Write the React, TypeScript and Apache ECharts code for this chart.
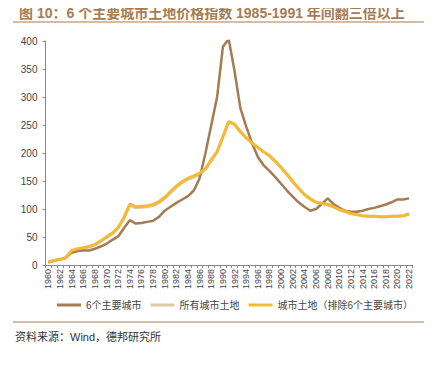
import React, { useEffect, useRef } from "react";
import * as echarts from "echarts";

const years: string[] = [];
for (let y = 1960; y <= 2022; y++) years.push(String(y));

const sixCities = [
  5, 8, 10, 13, 22, 25, 26, 26, 29, 33,
  38, 45, 51, 66, 80, 74, 75, 77, 79, 86,
  97, 104, 111, 117, 123, 133, 155, 200, 250, 300,
  390, 403, 346, 280, 247, 218, 193, 178, 168, 157,
  145, 133, 122, 112, 104, 97, 100, 109, 119, 109,
  102, 97, 95, 95, 97, 100, 102, 105, 108, 112,
  117, 117, 119,
];

const otherCities = [
  5, 8, 10, 13, 26, 29, 31, 33, 37, 43,
  50, 57, 67, 85, 109, 104, 105, 106, 108, 113,
  121, 131, 141, 149, 155, 159, 164, 172, 188, 202,
  229, 256, 251, 238, 227, 218, 210, 202, 195, 185,
  174, 162, 149, 137, 126, 118, 112, 110, 108, 104,
  99, 96, 92, 90, 88, 87, 87, 86, 86, 87,
  87, 88, 91,
];

const allCities = [
  5, 8, 10, 13, 25, 28, 30, 32, 36, 42,
  49, 56, 66, 84, 107, 102, 103, 104, 106, 111,
  119, 129, 139, 147, 153, 157, 162, 171, 187, 202,
  229, 256, 251, 238, 227, 218, 210, 202, 195, 185,
  174, 162, 149, 137, 126, 118, 112, 110, 108, 104,
  99, 96, 92, 90, 88, 87, 87, 86, 86, 87,
  87, 88, 91,
];

const seriesNames = ["6个主要城市", "所有城市土地", "城市土地（排除6个主要城市）"];
const colors = ["#a57c52", "#dccba5", "#f6b933"];

export default function App() {
  const ref = useRef<HTMLDivElement>(null);
  useEffect(() => {
    if (!ref.current) return;
    const chart = echarts.init(ref.current, undefined, { renderer: "svg" });
    chart.setOption({
      animation: false,
      textStyle: { fontFamily: "Liberation Sans, Noto Sans CJK SC, sans-serif" },
      title: {
        text: "图 10：6 个主要城市土地价格指数 1985-1991 年间翻三倍以上",
        left: 14,
        top: 1,
        textStyle: {
          color: "#a57c52",
          fontSize: 14,
          fontWeight: "bold",
          fontFamily: "Liberation Sans, Noto Sans CJK SC, sans-serif",
        },
      },
      graphic: [
        { type: "line", shape: { x1: 13, y1: 22, x2: 425, y2: 22 }, style: { stroke: "#a57c52", lineWidth: 1.2 } },
        { type: "line", shape: { x1: 13, y1: 322, x2: 425, y2: 322 }, style: { stroke: "#a57c52", lineWidth: 1.2 } },
        {
          type: "text",
          left: 15,
          top: 331,
          style: {
            text: "资料来源：Wind，德邦研究所",
            fill: "#333",
            font: "11px 'Liberation Sans', 'Noto Sans CJK SC', sans-serif",
          },
        },
      ],
      legend: {
        bottom: 54,
        left: 52,
        width: 380,
        itemWidth: 24,
        itemHeight: 3,
        itemGap: 9,
        icon: "rect",
        textStyle: { fontSize: 10, color: "#444" },
        data: seriesNames,
      },
      grid: { left: 45.5, right: 20, top: 41, bottom: 104 },
      xAxis: {
        type: "category",
        data: years,
        boundaryGap: true,
        axisLine: { lineStyle: { color: "#888" } },
        axisTick: { show: true, interval: 0, length: 3, lineStyle: { color: "#888" } },
        axisLabel: { rotate: 90, interval: 1, fontSize: 9, color: "#444", margin: 4 },
      },
      yAxis: {
        type: "value",
        min: 0,
        max: 400,
        interval: 50,
        axisLine: { show: true, lineStyle: { color: "#888" } },
        axisTick: { show: true, length: 3, lineStyle: { color: "#888" } },
        axisLabel: { fontSize: 10, color: "#444", margin: 8 },
        splitLine: { show: false },
      },
      series: [
        {
          name: seriesNames[0],
          type: "line",
          data: sixCities,
          symbol: "none",
          lineStyle: { width: 2.5, color: colors[0] },
          itemStyle: { color: colors[0] },
          z: 3,
        },
        {
          name: seriesNames[1],
          type: "line",
          data: allCities,
          symbol: "none",
          lineStyle: { width: 3, color: colors[1] },
          itemStyle: { color: colors[1] },
          z: 2,
        },
        {
          name: seriesNames[2],
          type: "line",
          data: otherCities,
          symbol: "none",
          lineStyle: { width: 3, color: colors[2] },
          itemStyle: { color: colors[2] },
          z: 4,
        },
      ],
    });
    return () => chart.dispose();
  }, []);
  return <div ref={ref} style={{ width: 432, height: 369, margin: -8 }} />;
}
